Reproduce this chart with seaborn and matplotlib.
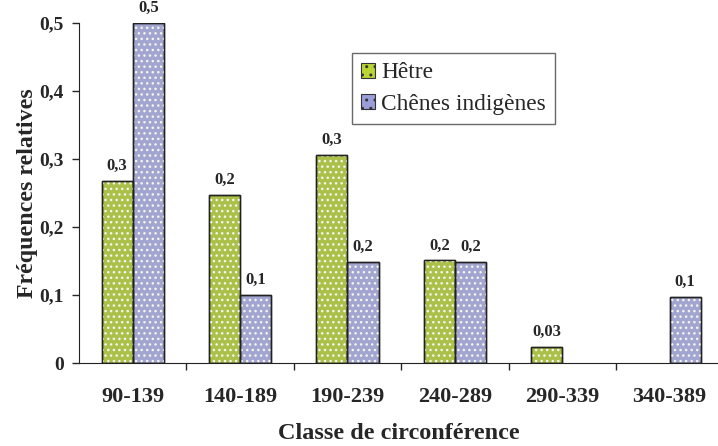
import matplotlib
matplotlib.use("Agg")
import matplotlib.pyplot as plt
from matplotlib.patches import Rectangle
import seaborn as sns
import pandas as pd

classes = ["90-139", "140-189", "190-239", "240-289", "290-339", "340-389"]
hetre = [0.268, 0.247, 0.306, 0.151, 0.024, 0.0]
chenes = [0.5, 0.1, 0.149, 0.149, 0.0, 0.097]
hetre_labels = ["0,3", "0,2", "0,3", "0,2", "0,03", ""]
chenes_labels = ["0,5", "0,1", "0,2", "0,2", "", "0,1"]
series = ["Hêtre", "Chênes indigènes"]
yticks = [0, 0.1, 0.2, 0.3, 0.4, 0.5]
ytick_labels = ["0", "0,1", "0,2", "0,3", "0,4", "0,5"]

COLORS = ["#b8d435", "#9a9ed8"]

df = pd.DataFrame({
    "classe": classes * 2,
    "freq": hetre + chenes,
    "serie": [series[0]] * len(classes) + [series[1]] * len(classes),
})

sns.set_style("white")
plt.rcParams["font.family"] = ["Liberation Serif", "DejaVu Serif"]
plt.rcParams["hatch.linewidth"] = 1.0

fig = plt.figure(figsize=(7.18, 4.46), dpi=100)
ax = fig.add_axes([0.110, 0.186, 0.89, 0.762])

sns.barplot(data=df, x="classe", y="freq", hue="serie", order=classes,
            hue_order=series, palette=COLORS, width=0.58, gap=0,
            edgecolor="#222222", linewidth=1.0, ax=ax, legend=False)

# white dotted texture on top of the bars, empty bars hidden
for p in list(ax.patches):
    if p.get_height() <= 0:
        p.set_linewidth(0)
        continue
    ax.add_patch(Rectangle(p.get_xy(), p.get_width(), p.get_height(),
                           facecolor="none", edgecolor="#f4f6ee", hatch="...",
                           linewidth=0, zorder=p.get_zorder() + 0.1))
    ax.add_patch(Rectangle(p.get_xy(), p.get_width(), p.get_height(),
                           facecolor="none", edgecolor="#222222",
                           linewidth=1.0, zorder=p.get_zorder() + 0.2))

for cont, labs in zip(ax.containers, [hetre_labels, chenes_labels]):
    ax.bar_label(cont, labels=labs, padding=5, fontsize=12, fontweight="bold")

ax.set_ylim(0, 0.5)
ax.set_xlim(-0.5, 5.45)
ax.set_yticks(yticks)
ax.set_yticklabels(ytick_labels, fontsize=14, fontweight="bold")
ax.tick_params(axis="y", direction="out", length=5, width=1, left=True, pad=6)
ax.tick_params(axis="x", length=0, pad=17, labelsize=16)
for t in ax.get_xticklabels():
    t.set_fontweight("bold")
ax.set_xticks([0.5, 1.5, 2.5, 3.5, 4.5], minor=True)
ax.tick_params(axis="x", which="minor", direction="out", length=5, width=1,
               bottom=True)

for s in ["top", "right"]:
    ax.spines[s].set_visible(False)
ax.spines["left"].set_color("#222222")
ax.spines["bottom"].set_color("#222222")

ax.set_xlabel("Classe de circonférence", fontsize=17.5, fontweight="bold",
              labelpad=12)
ax.set_ylabel("Fréquences relatives", fontsize=17.2, fontweight="bold",
              labelpad=1)

handles = [Rectangle((0, 0), 1, 1, facecolor=c, edgecolor="#333333",
                     hatch="..", linewidth=0.8) for c in COLORS]
leg = ax.legend(handles, series, loc="upper left",
                bbox_to_anchor=(0.427, 0.912), fontsize=16.8, frameon=True,
                fancybox=False, edgecolor="#444444", handlelength=0.6,
                handleheight=0.6, handletextpad=0.25, borderpad=0.4,
                borderaxespad=0, labelspacing=0.45)
leg.get_frame().set_linewidth(1.0)

fig.savefig("out.png", dpi=100, facecolor="white")
